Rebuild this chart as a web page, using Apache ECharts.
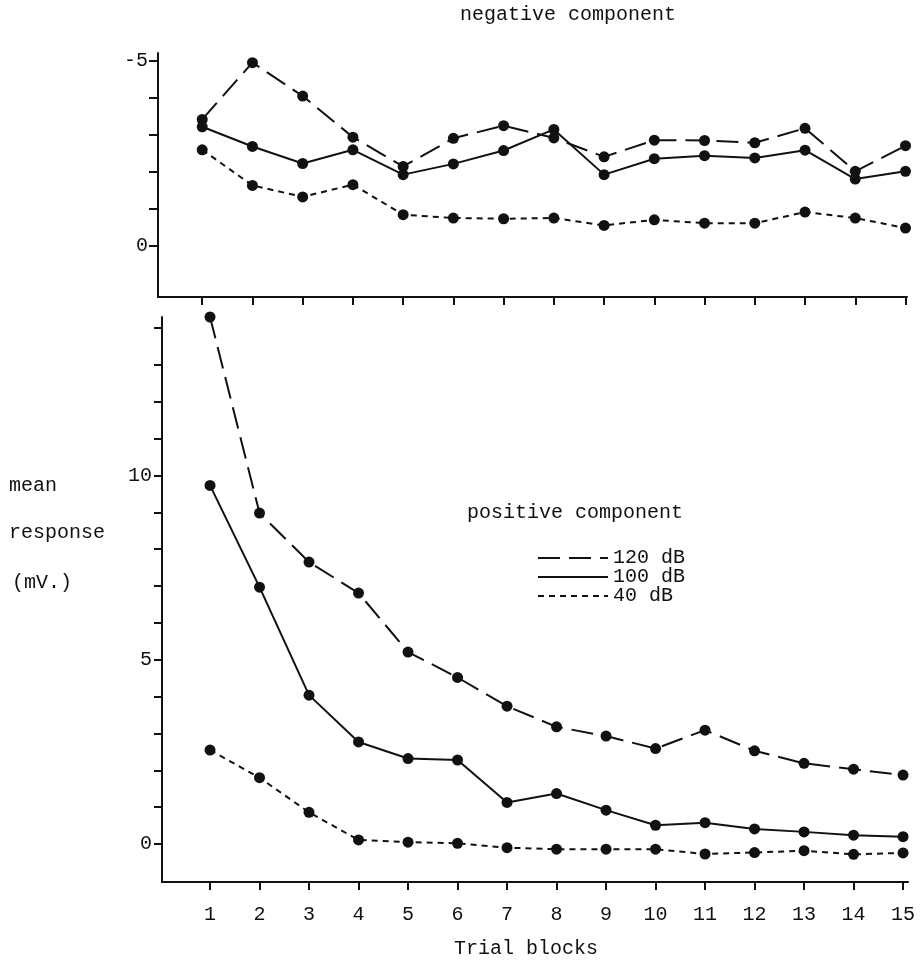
<!DOCTYPE html>
<html>
<head>
<meta charset="utf-8">
<script src="https://cdn.jsdelivr.net/npm/echarts@6/dist/echarts.min.js"></script>
<style>
  html, body { margin: 0; padding: 0; background: #fff; }
  #chart { width: 922px; height: 961px; }
</style>
</head>
<body>
<div id="chart"></div>
<script>
// Trial blocks (x positions)
const blocks = [1, 2, 3, 4, 5, 6, 7, 8, 9, 10, 11, 12, 13, 14, 15];

// Negative component (mV), by stimulus intensity
const neg120 = [-3.41, -4.94, -4.04, -2.93, -2.14, -2.90, -3.24, -2.91, -2.40, -2.85, -2.84, -2.78, -3.17, -2.01, -2.70];
const neg100 = [-3.21, -2.68, -2.22, -2.59, -1.92, -2.21, -2.57, -3.14, -1.92, -2.35, -2.43, -2.37, -2.58, -1.80, -2.01];
const neg40  = [-2.59, -1.63, -1.32, -1.65, -0.84, -0.75, -0.73, -0.75, -0.55, -0.70, -0.61, -0.61, -0.91, -0.75, -0.48];

// Positive component (mV), by stimulus intensity
const pos120 = [14.3, 8.98, 7.65, 6.81, 5.21, 4.52, 3.74, 3.18, 2.93, 2.59, 3.09, 2.53, 2.19, 2.03, 1.87];
const pos100 = [9.73, 6.97, 4.04, 2.77, 2.32, 2.28, 1.13, 1.37, 0.92, 0.51, 0.58, 0.41, 0.33, 0.24, 0.20];
const pos40  = [2.55, 1.80, 0.86, 0.11, 0.05, 0.02, -0.10, -0.14, -0.14, -0.14, -0.27, -0.23, -0.18, -0.28, -0.24];

// Tick values and labels
const negTicks = [-5, -4, -3, -2, -1, 0];
const negLabels = [-5, 0];
const posTicks = [0, 1, 2, 3, 4, 5, 6, 7, 8, 9, 10, 11, 12, 13, 14];
const posLabels = [0, 5, 10];

const seriesNames = ['120 dB', '100 dB', '40 dB'];

const INK = '#111';
const FONT = '"Liberation Mono", "DejaVu Sans Mono", monospace';
const dashStyles = [[22, 9], 'solid', [6, 5]];

const pair = vals => blocks.map((b, i) => [b, vals[i]]);

function lineSeries(name, vals, styleIdx, gridIdx) {
  return {
    type: 'line',
    name: name,
    xAxisIndex: gridIdx,
    yAxisIndex: gridIdx,
    data: pair(vals),
    symbol: 'circle',
    symbolSize: 11,
    clip: false,
    itemStyle: { color: INK },
    lineStyle: { color: INK, width: 2, type: dashStyles[styleIdx] }
  };
}

const axisLineStyle = { show: true, onZero: false, lineStyle: { color: INK, width: 2 } };
const tickStyle = { lineStyle: { color: INK, width: 2 } };

const chart = echarts.init(document.getElementById('chart'), null, { renderer: 'canvas' });
chart.setOption({
  animation: false,
  backgroundColor: '#fff',
  textStyle: { fontFamily: FONT, color: INK },
  title: [
    { text: 'negative component', left: 455, top: 0,
      textStyle: { fontFamily: FONT, fontSize: 20, fontWeight: 'normal', color: INK } },
    { text: 'positive component', left: 462, top: 498,
      textStyle: { fontFamily: FONT, fontSize: 20, fontWeight: 'normal', color: INK } }
  ],
  legend: {
    data: seriesNames,
    orient: 'vertical',
    left: 537,
    top: 548,
    padding: 0,
    itemWidth: 70,
    itemHeight: 14,
    itemGap: -1,
    itemStyle: { opacity: 0 },
    textStyle: { fontFamily: FONT, fontSize: 20, color: INK, lineHeight: 16 },
    selectedMode: false
  },
  grid: [
    { left: 158, top: 53, right: 15, bottom: 664, outerBoundsMode: 'none' },
    { left: 162, top: 317, right: 14, bottom: 79, outerBoundsMode: 'none' }
  ],
  xAxis: [
    {
      type: 'value', gridIndex: 0, min: 0.12, max: 15.03,
      axisLine: axisLineStyle,
      axisTick: { show: true, length: 8, customValues: blocks, ...tickStyle },
      axisLabel: { show: false },
      splitLine: { show: false }
    },
    {
      type: 'value', gridIndex: 1, min: 0.03, max: 15.1,
      name: 'Trial blocks', nameLocation: 'middle', nameGap: 57,
      nameTextStyle: { fontFamily: FONT, fontSize: 20, color: INK, padding: [0, 18, 0, 0] },
      axisLine: axisLineStyle,
      axisTick: { show: true, length: 8, customValues: blocks, ...tickStyle },
      axisLabel: { show: true, customValues: blocks, margin: 23, fontFamily: FONT, fontSize: 20, color: INK },
      splitLine: { show: false }
    }
  ],
  yAxis: [
    {
      type: 'value', gridIndex: 0, inverse: true, min: -5.2, max: 1.38,
      axisLine: axisLineStyle,
      axisTick: { show: true, length: 9, customValues: negTicks, ...tickStyle },
      axisLabel: { show: true, customValues: negLabels, margin: 10, fontFamily: FONT, fontSize: 20, color: INK },
      splitLine: { show: false }
    },
    {
      type: 'value', gridIndex: 1, min: -1.03, max: 14.3,
      axisLine: axisLineStyle,
      axisTick: { show: true, length: 8, customValues: posTicks, ...tickStyle },
      axisLabel: { show: true, customValues: posLabels, margin: 10, fontFamily: FONT, fontSize: 20, color: INK },
      splitLine: { show: false }
    }
  ],
  graphic: [
    { type: 'text', left: 9, top: 476, style: { text: 'mean', font: '20px ' + FONT, fill: INK } },
    { type: 'text', left: 9, top: 523, style: { text: 'response', font: '20px ' + FONT, fill: INK } },
    { type: 'text', left: 12, top: 573, style: { text: '(mV.)', font: '20px ' + FONT, fill: INK } }
  ],
  series: [
    lineSeries(seriesNames[0], neg120, 0, 0),
    lineSeries(seriesNames[1], neg100, 1, 0),
    lineSeries(seriesNames[2], neg40, 2, 0),
    lineSeries(seriesNames[0], pos120, 0, 1),
    lineSeries(seriesNames[1], pos100, 1, 1),
    lineSeries(seriesNames[2], pos40, 2, 1)
  ]
});
</script>
</body>
</html>
